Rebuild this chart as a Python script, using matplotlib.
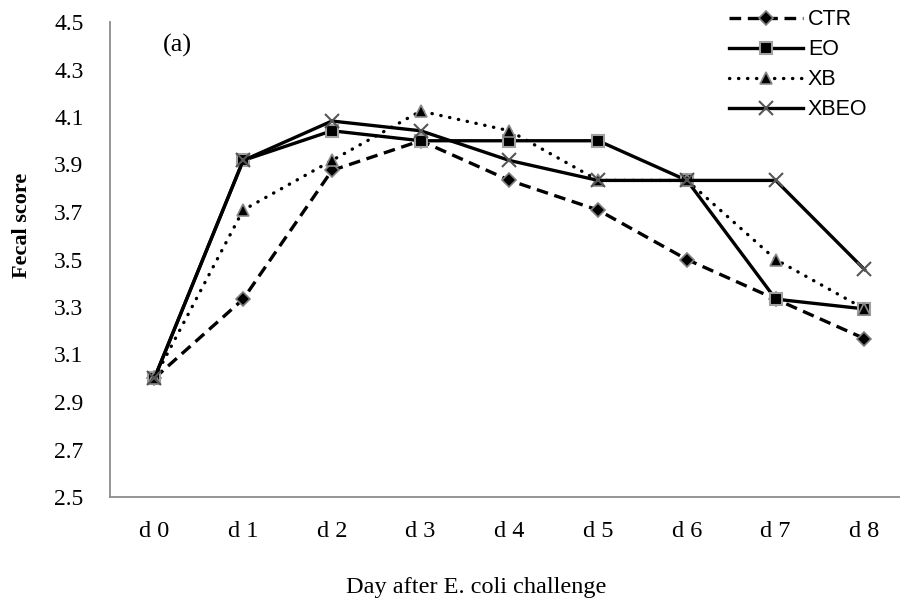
# -*- coding: utf-8 -*-
"""
Fecal score after E. coli challenge, line chart (a).
"""

import matplotlib
matplotlib.use("Agg")
import matplotlib.pyplot as plt

days = ["d 0", "d 1", "d 2", "d 3", "d 4", "d 5", "d 6", "d 7", "d 8"]

ctr = [3.000, 3.333, 3.875, 4.000, 3.833, 3.708, 3.500, 3.333, 3.167]
eo = [3.000, 3.917, 4.042, 4.000, 4.000, 4.000, 3.833, 3.333, 3.292]
xb = [3.000, 3.708, 3.917, 4.125, 4.042, 3.833, 3.833, 3.500, 3.292]
xbeo = [3.000, 3.917, 4.083, 4.042, 3.917, 3.833, 3.833, 3.833, 3.458]

y_ticks = [2.5, 2.7, 2.9, 3.1, 3.3, 3.5, 3.7, 3.9, 4.1, 4.3, 4.5]

serif = ["Liberation Serif", "DejaVu Serif"]
sans = ["Liberation Sans", "DejaVu Sans"]

fig = plt.figure(figsize=(9, 6.05), dpi=100)
ax = fig.add_axes([110 / 900, 108 / 605, 790 / 900, 475 / 605])

x = list(range(len(days)))
lw = 2.4

ax.plot(x, ctr, color="black", lw=lw, linestyle=(0, (3.5, 2)),
        marker="D", markersize=7, markerfacecolor="black",
        markeredgecolor="#7f7f7f", markeredgewidth=1.2, label="CTR")
ax.plot(x, eo, color="black", lw=lw, linestyle="-",
        marker="s", markersize=9, markerfacecolor="black",
        markeredgecolor="#a0a0a0", markeredgewidth=1.5, label="EO")
ax.plot(x, xb, color="black", lw=lw, linestyle=(0, (0.1, 2.6)),
        dash_capstyle="round",
        marker="^", markersize=9, markerfacecolor="black",
        markeredgecolor="#8a8a8a", markeredgewidth=1.2, label="XB")
ax.plot(x, xbeo, color="black", lw=lw, linestyle="-",
        marker="x", markersize=10, markeredgecolor="#555555",
        markeredgewidth=1.5, label="XBEO")

ax.set_xlim(-0.5, 8.4)
ax.set_ylim(2.5, 4.5)
ax.set_xticks(x)
ax.set_xticklabels(days, fontfamily=serif, fontsize=17.5)
ax.set_yticks(y_ticks)
ax.set_yticklabels([f"{v:.1f}" for v in y_ticks], fontfamily=serif, fontsize=17)
ax.tick_params(axis="both", length=0)
ax.tick_params(axis="y", pad=19)
ax.tick_params(axis="x", pad=17)

for side in ["top", "right"]:
    ax.spines[side].set_visible(False)
for side in ["left", "bottom"]:
    ax.spines[side].set_color("#8c8c8c")
    ax.spines[side].set_linewidth(1.3)

fig.text(22 / 900, 1 - 225 / 605, "Fecal score", rotation=90, ha="center",
         va="center", fontfamily=serif, fontsize=16, fontweight="bold")
fig.text(476 / 900, 1 - 588 / 605, "Day after E. coli challenge", ha="center",
         va="center", fontfamily=serif, fontsize=17.5)
fig.text(177 / 900, 1 - 45 / 605, "(a)", ha="center", va="center",
         fontfamily=serif, fontsize=19)

leg = ax.legend(loc="upper left", bbox_to_anchor=(600 / 790, 1.068),
                frameon=False, numpoints=1, handlelength=3.4,
                handletextpad=0.25, labelspacing=0.42,
                prop={"family": sans, "size": 15.5})

fig.savefig("out.png", dpi=100)
